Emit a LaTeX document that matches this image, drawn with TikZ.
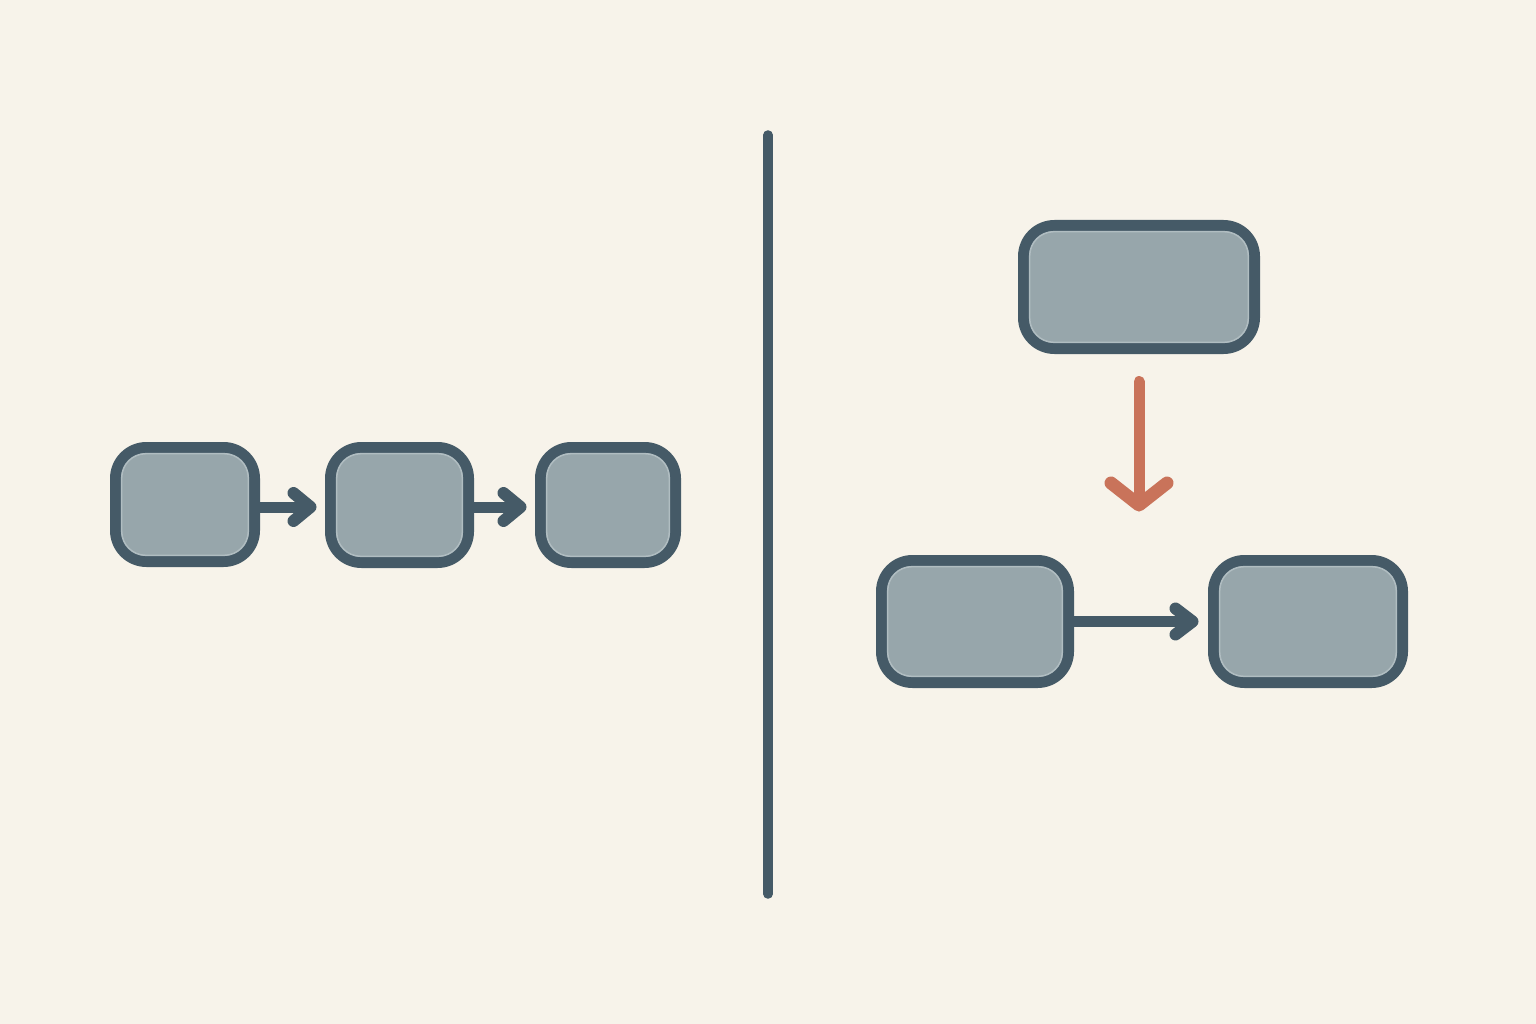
\documentclass[tikz,border=0pt]{standalone}
\definecolor{bg}{HTML}{F7F3EA}
\definecolor{dark}{HTML}{455A67}
\definecolor{boxfill}{HTML}{97A6AB}
\definecolor{hilite}{HTML}{B0BDC1}
\definecolor{redarrow}{HTML}{C9735A}
\begin{document}
\begin{tikzpicture}[x=1pt,y=-1pt,
  blk/.style={draw=dark, fill=boxfill, line width=11pt, rounded corners=31pt,
    rectangle, inner sep=0pt, minimum width=#1},
  blk/.default=140pt,
  innerline/.style={draw=hilite, line width=1.5pt, rounded corners=24pt},
  shaft/.style={draw=dark, line width=11pt},
  head/.style={draw=dark, line width=12pt, line cap=round, line join=round},
  redshaft/.style={draw=redarrow, line width=11pt, line cap=round},
  redhead/.style={draw=redarrow, line width=13pt, line cap=round, line join=round},
  divider/.style={draw=dark, line width=9.5pt, line cap=round}]
\useasboundingbox (0,0) rectangle (1536,1024);
\fill[bg] (0,0) rectangle (1536,1024);

% left chain
\node[blk=139pt, minimum height=114pt] (l1) at (185,504.5) {};
\node[blk=138pt, minimum height=115pt] (l2) at (399.5,505) {};
\node[blk=135pt, minimum height=115pt] (l3) at (608,505) {};

% right side
\node[blk=231pt, minimum height=123pt] (rt) at (1139,287) {};
\node[blk=187pt, minimum height=122pt] (rb1) at (975,621.5) {};
\node[blk=189pt, minimum height=122pt] (rb2) at (1308,621.5) {};

% inner highlight lines (anchors sit on the outer edge of the border)
\foreach \n in {l1,l2,l3,rt,rb1,rb2}{
  \draw[innerline] ([shift={(11.7,11.7)}]\n.north west) rectangle ([shift={(-11.7,-11.7)}]\n.south east);
}

% divider
\coordinate (dtop) at (768,135);
\coordinate (dbot) at (768,894);
\draw[divider] (dtop) -- (dbot);

% connectors: tips just before the target boxes
\coordinate (t1) at ([shift={(-14.5,2)}]l2.west);
\coordinate (t2) at ([shift={(-14.5,2)}]l3.west);
\coordinate (t3) at ([shift={(-15.5,0)}]rb2.west);
\coordinate (redtip) at (1139,505);

\draw[shaft] ([xshift=-6pt]l1.east |- t1) -- (t1);
\draw[head] ([shift={(-17,-14)}]t1) -- (t1) -- ([shift={(-17,14)}]t1);

\draw[shaft] ([xshift=-6pt]l2.east |- t2) -- (t2);
\draw[head] ([shift={(-17,-14)}]t2) -- (t2) -- ([shift={(-17,14)}]t2);

\draw[shaft] ([xshift=-6pt]rb1.east |- t3) -- (t3);
\draw[head] ([shift={(-17,-13)}]t3) -- (t3) -- ([shift={(-17,13)}]t3);

\draw[redshaft, shorten <=27.5pt, shorten >=5pt] (rt.south) -- (redtip);
\draw[redhead] ([shift={(-28,-22)}]redtip) -- (redtip) -- ([shift={(28,-22)}]redtip);
\end{tikzpicture}
\end{document}
